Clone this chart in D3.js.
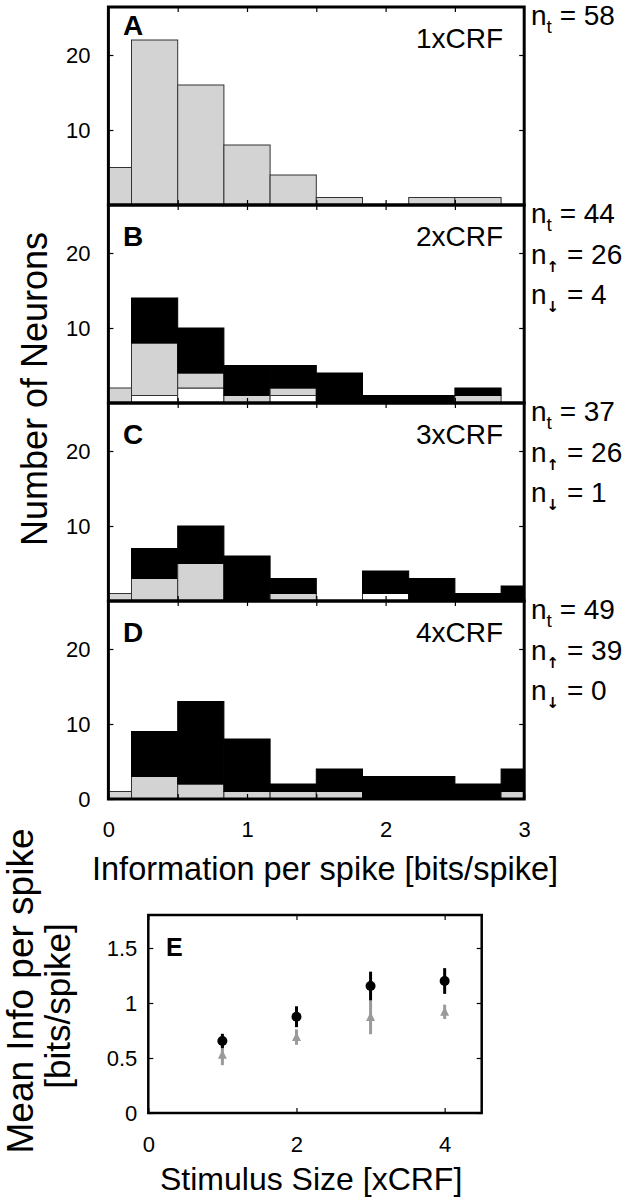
<!DOCTYPE html>
<html>
<head>
<meta charset="utf-8">
<script src="https://cdn.jsdelivr.net/npm/d3@7"></script>
<style>
  html, body { margin: 0; padding: 0; background: #fff; }
  svg { display: block; font-family: "Liberation Sans", Arial, Helvetica, sans-serif; }
</style>
</head>
<body>
<svg id="chart" width="625" height="1199"></svg>
<script>
// ---------- DATA ----------
const binCenters = [0, 1/3, 2/3, 1, 4/3, 5/3, 2, 7/3, 8/3, 3];
const binWidth = 1/3;
const panelLetters = ["A", "B", "C", "D"];
const panelSizes = ["1xCRF", "2xCRF", "3xCRF", "4xCRF"];
// counts per bin: decreased (white), unchanged (gray), increased (black)
const downA = [0, 0, 0, 0, 0, 0, 0, 0, 0, 0];
const grayA = [5, 22, 16, 8, 4, 1, 0, 1, 1, 0];
const upA   = [0, 0, 0, 0, 0, 0, 0, 0, 0, 0];
const downB = [0, 1, 2, 0, 1, 0, 0, 0, 0, 0];
const grayB = [2, 7, 2, 1, 1, 0, 0, 0, 1, 0];
const upB   = [0, 6, 6, 4, 3, 4, 1, 1, 1, 0];
const downC = [0, 0, 0, 0, 0, 0, 1, 0, 0, 0];
const grayC = [1, 3, 5, 0, 1, 0, 0, 0, 0, 0];
const upC   = [0, 4, 5, 6, 2, 0, 3, 3, 1, 2];
const downD = [0, 0, 0, 0, 0, 0, 0, 0, 0, 0];
const grayD = [1, 3, 2, 1, 1, 1, 0, 0, 0, 1];
const upD   = [0, 6, 11, 7, 1, 3, 3, 3, 2, 3];
const nTotal = [58, 44, 37, 49];
const nUp    = [null, 26, 26, 39];
const nDown  = [null, 4, 1, 0];
const histXTicks = [0, 1, 2, 3];
const histYTicks = [10, 20];

const stimSizes = [1, 2, 3, 4];
const meanAll = [0.655, 0.875, 1.155, 1.20];
const errAll  = [0.065, 0.095, 0.13, 0.117];
const meanUp  = [0.53, 0.69, 0.873, 0.92];
const errUp   = [0.095, 0.07, 0.157, 0.065];
const eXTicks = [0, 2, 4];
const eYTicks = [0, 0.5, 1, 1.5];

// ---------- LAYOUT ----------
const svg = d3.select("#chart");
const hx = d3.scaleLinear().domain([0, 3]).range([108.4, 524.2]);
const panelTop0 = 7, panelH = 198;
const yMax = 26.4;
const panels = [
  {down: downA, gray: grayA, up: upA},
  {down: downB, gray: grayB, up: upB},
  {down: downC, gray: grayC, up: upC},
  {down: downD, gray: grayD, up: upD}
];
const GRAY = "#d3d3d3";

panels.forEach((p, i) => {
  const top = panelTop0 + panelH * i;
  const y = d3.scaleLinear().domain([0, yMax]).range([top + panelH, top]);
  const g = svg.append("g");
  const segs = [];
  binCenters.forEach((c, j) => {
    const x0 = Math.max(0, c - binWidth / 2), x1 = Math.min(3, c + binWidth / 2);
    const d = p.down[j], gr = p.gray[j], u = p.up[j];
    if (d > 0) segs.push({x0, x1, b: 0, t: d, fill: "#fff", stroke: "#333"});
    if (gr > 0) segs.push({x0, x1, b: d, t: d + gr, fill: GRAY, stroke: "#333"});
    if (u > 0) segs.push({x0, x1, b: d + gr, t: d + gr + u, fill: "#000", stroke: "#000"});
  });
  g.selectAll("rect.bar").data(segs).join("rect")
    .attr("class", "bar")
    .attr("x", s => hx(s.x0))
    .attr("width", s => hx(s.x1) - hx(s.x0))
    .attr("y", s => y(s.t))
    .attr("height", s => y(s.b) - y(s.t))
    .attr("fill", s => s.fill)
    .attr("stroke", s => s.stroke)
    .attr("stroke-width", 1);

  // axes (inward ticks)
  const yT = i === 3 ? [0].concat(histYTicks) : histYTicks;
  const left = g.append("g").attr("transform", `translate(${hx(0)},0)`)
    .call(d3.axisLeft(y).tickValues(yT).tickSize(-5).tickPadding(18).tickFormat(d3.format("d")));
  const right = g.append("g").attr("transform", `translate(${hx(3)},0)`)
    .call(d3.axisRight(y).tickValues(histYTicks).tickSize(-5).tickFormat(""));
  const topAx = g.append("g").attr("transform", `translate(0,${top})`)
    .call(d3.axisTop(hx).tickValues([0.5, 1, 1.5, 2, 2.5]).tickSize(-5).tickFormat(""));
  const botAx = g.append("g").attr("transform", `translate(0,${top + panelH})`)
    .call(d3.axisBottom(hx).tickValues(i === 3 ? histXTicks.concat([0.5,1.5,2.5]) : [0.5, 1, 1.5, 2, 2.5])
      .tickSize(-5).tickPadding(22)
      .tickFormat(d => (i === 3 && Number.isInteger(d)) ? d3.format("d")(d) : ""));
  [left, right, topAx, botAx].forEach(a => {
    a.select(".domain").remove();
    a.selectAll("line").attr("stroke", "#000").attr("stroke-width", 1.2);
    a.selectAll("text").attr("font-size", 22).attr("fill", "#000")
      .attr("font-family", "'Liberation Sans', Arial, sans-serif");
  });

  // frame
  g.append("rect").attr("x", hx(0)).attr("y", top).attr("width", hx(3) - hx(0)).attr("height", panelH)
    .attr("fill", "none").attr("stroke", "#000").attr("stroke-width", 3);

  // labels
  g.append("text").attr("x", 123).attr("y", i === 0 ? top + 28 : top + 41)
    .attr("font-weight", "bold").attr("font-size", 28).text(panelLetters[i]);
  g.append("text").attr("x", 503).attr("y", top + 41).attr("text-anchor", "end")
    .attr("font-size", 28).text(panelSizes[i]);

  const rows = [{sub: "t", val: nTotal[i]}];
  if (nUp[i] !== null) rows.push({sub: "\u2191", val: nUp[i]});
  if (nDown[i] !== null) rows.push({sub: "\u2193", val: nDown[i]});
  rows.forEach((r, k) => {
    const t = g.append("text").attr("x", 531).attr("y", top + 18 + 40.5 * k).attr("font-size", 28);
    t.append("tspan").text("n");
    const sub = t.append("tspan").attr("dy", 8).text(r.sub);
    if (r.sub === "t") sub.attr("font-size", 19);
    else sub.attr("font-size", 15).attr("font-weight", "bold").attr("font-family", "'DejaVu Sans', sans-serif");
    t.append("tspan").attr("dy", -8).text(" = " + r.val);
  });
});

svg.append("text").attr("x", 92).attr("y", 880).attr("font-size", 32.5)
  .text("Information per spike [bits/spike]");
svg.append("text").attr("transform", "translate(47,389) rotate(-90)").attr("text-anchor", "middle")
  .attr("font-size", 36).text("Number of Neurons");

// ---------- PANEL E ----------
const ex = d3.scaleLinear().domain([0, 4.5]).range([148.3, 481.7]);
const ey = d3.scaleLinear().domain([0, 1.8]).range([1113, 915]);
const ge = svg.append("g");

const eAxes = [
  ge.append("g").attr("transform", `translate(${ex(0)},0)`)
    .call(d3.axisLeft(ey).tickValues(eYTicks).tickSize(-5).tickPadding(11).tickFormat(d => d3.format("")(d))),
  ge.append("g").attr("transform", `translate(${ex(4.5)},0)`)
    .call(d3.axisRight(ey).tickValues(eYTicks).tickSize(-5).tickFormat("")),
  ge.append("g").attr("transform", `translate(0,${ey(0)})`)
    .call(d3.axisBottom(ex).tickValues(eXTicks).tickSize(-5).tickPadding(23).tickFormat(d3.format("d"))),
  ge.append("g").attr("transform", `translate(0,${ey(1.8)})`)
    .call(d3.axisTop(ex).tickValues(eXTicks).tickSize(-5).tickFormat(""))
];
eAxes.forEach(a => {
  a.select(".domain").remove();
  a.selectAll("line").attr("stroke", "#000").attr("stroke-width", 1.2);
  a.selectAll("text").attr("font-size", 22).attr("fill", "#000")
    .attr("font-family", "'Liberation Sans', Arial, sans-serif");
});
ge.append("rect").attr("x", ex(0)).attr("y", ey(1.8)).attr("width", ex(4.5) - ex(0)).attr("height", ey(0) - ey(1.8))
  .attr("fill", "none").attr("stroke", "#000").attr("stroke-width", 2.5);

const upData = stimSizes.map((s, i) => ({s, m: meanUp[i], e: errUp[i]}));
const allData = stimSizes.map((s, i) => ({s, m: meanAll[i], e: errAll[i]}));
const GRAYM = "#9a9a9a";
ge.selectAll("line.up").data(upData).join("line").attr("class", "up")
  .attr("x1", d => ex(d.s)).attr("x2", d => ex(d.s))
  .attr("y1", d => ey(d.m - d.e)).attr("y2", d => ey(d.m + d.e))
  .attr("stroke", GRAYM).attr("stroke-width", 3);
ge.selectAll("path.uparrow").data(upData).join("path").attr("class", "uparrow")
  .attr("d", d => { const x = ex(d.s), y = ey(d.m); return `M${x - 4.5},${y + 4} L${x},${y - 5} L${x + 4.5},${y + 4} Z`; })
  .attr("fill", GRAYM);
ge.selectAll("line.all").data(allData).join("line").attr("class", "all")
  .attr("x1", d => ex(d.s)).attr("x2", d => ex(d.s))
  .attr("y1", d => ey(d.m - d.e)).attr("y2", d => ey(d.m + d.e))
  .attr("stroke", "#000").attr("stroke-width", 3);
ge.selectAll("circle.all").data(allData).join("circle").attr("class", "all")
  .attr("cx", d => ex(d.s)).attr("cy", d => ey(d.m)).attr("r", 5).attr("fill", "#000");

ge.append("text").attr("x", 166).attr("y", 956).attr("font-weight", "bold").attr("font-size", 25).text("E");
ge.append("text").attr("x", 160).attr("y", 1190).attr("font-size", 32).text("Stimulus Size [xCRF]");
ge.append("text").attr("transform", "translate(33,991) rotate(-90)").attr("text-anchor", "middle")
  .attr("font-size", 37).text("Mean Info per spike");
ge.append("text").attr("transform", "translate(70,1006) rotate(-90)").attr("text-anchor", "middle")
  .attr("font-size", 35).text("[bits/spike]");
</script>
</body>
</html>
